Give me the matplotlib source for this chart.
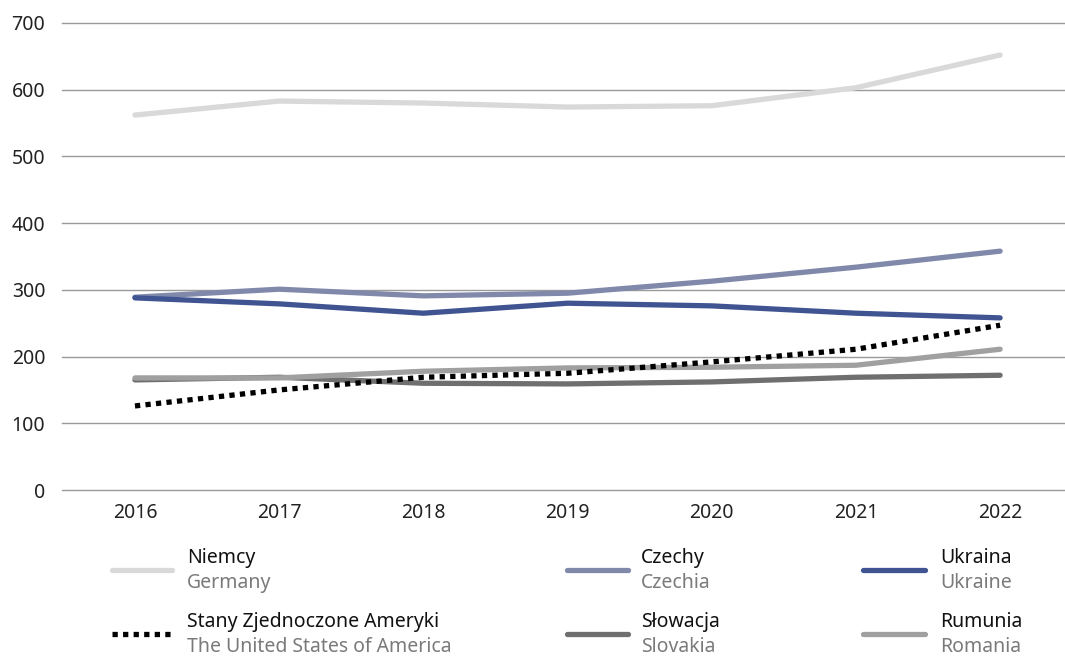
import matplotlib
matplotlib.use("Agg")
import matplotlib.pyplot as plt
from matplotlib.lines import Line2D

plt.rcParams['font.family'] = ['Noto Sans', 'DejaVu Sans']

years = ["2016", "2017", "2018", "2019", "2020", "2021", "2022"]
niemcy = [562, 583, 580, 574, 576, 603, 652]
czechy = [289, 301, 291, 295, 313, 334, 358]
ukraina = [288, 279, 265, 280, 276, 265, 258]
usa = [126, 150, 169, 175, 192, 211, 247]
slowacja = [165, 169, 160, 159, 162, 169, 172]
rumunia = [168, 168, 178, 183, 184, 187, 211]

labels_pl = ["Niemcy", "Czechy", "Ukraina", "Stany Zjednoczone Ameryki", "Słowacja", "Rumunia"]
labels_en = ["Germany", "Czechia", "Ukraine", "The United States of America", "Slovakia", "Romania"]
yticks = [0, 100, 200, 300, 400, 500, 600, 700]

colors = {"Niemcy": "#d9d9d9", "Czechy": "#8189ab", "Ukraina": "#3f5491",
          "Stany Zjednoczone Ameryki": "#000000", "Słowacja": "#6f6f6f", "Rumunia": "#a0a0a0"}
series = {"Niemcy": niemcy, "Czechy": czechy, "Ukraina": ukraina,
          "Stany Zjednoczone Ameryki": usa, "Słowacja": slowacja, "Rumunia": rumunia}

W, H = 1065, 656
fig = plt.figure(figsize=(W / 100, H / 100), dpi=100)
ax = fig.add_axes([62 / W, 1 - 490 / H, 1 - 62 / W, (490 - 23) / H])

x = list(range(len(years)))
lw = 3.8
draw_order = ["Niemcy", "Czechy", "Ukraina", "Słowacja", "Rumunia", "Stany Zjednoczone Ameryki"]
for name in draw_order:
    if name == "Stany Zjednoczone Ameryki":
        ax.plot(x, series[name], color=colors[name], lw=lw, linestyle=(0, (1, 1)),
                dash_capstyle='butt', zorder=5)
    else:
        ax.plot(x, series[name], color=colors[name], lw=lw, solid_capstyle='round',
                solid_joinstyle='round', zorder=3)

ax.set_ylim(0, 700)
ax.set_xlim(-0.506, 6.45)
ax.set_yticks(yticks)
ax.set_xticks(x)
ax.set_xticklabels(years)
for t in yticks:
    ax.axhline(t, color="#9a9a9a", lw=1, clip_on=False, zorder=1)
for s in ax.spines.values():
    s.set_visible(False)
ax.tick_params(axis='both', length=0, labelsize=14, colors="#222222")
ax.tick_params(axis='y', pad=12)
ax.tick_params(axis='x', pad=9)

# custom two-line legend
legend_pos = [
    ("Niemcy", 112, 172, 187, 570),
    ("Czechy", 567, 628, 641, 570),
    ("Ukraina", 863, 925, 940, 570),
    ("Stany Zjednoczone Ameryki", 112, 172, 187, 634),
    ("Słowacja", 567, 628, 641, 634),
    ("Rumunia", 863, 925, 940, 634),
]
for name, x0, x1, tx, ly in legend_pos:
    i = labels_pl.index(name)
    if name == "Stany Zjednoczone Ameryki":
        ln = Line2D([x0 / W, x1 / W], [1 - ly / H, 1 - ly / H], transform=fig.transFigure,
                    color=colors[name], lw=lw, linestyle=(0, (1, 1)), dash_capstyle='butt')
    else:
        ln = Line2D([x0 / W, x1 / W], [1 - ly / H, 1 - ly / H], transform=fig.transFigure,
                    color=colors[name], lw=lw, solid_capstyle='round')
    fig.add_artist(ln)
    fig.text(tx / W, 1 - (ly - 12) / H, labels_pl[i], fontsize=14, color="#111111",
             ha='left', va='center')
    fig.text(tx / W, 1 - (ly + 13) / H, labels_en[i], fontsize=14, color="#7a7a7a",
             ha='left', va='center')

fig.savefig("out.png", dpi=100)
